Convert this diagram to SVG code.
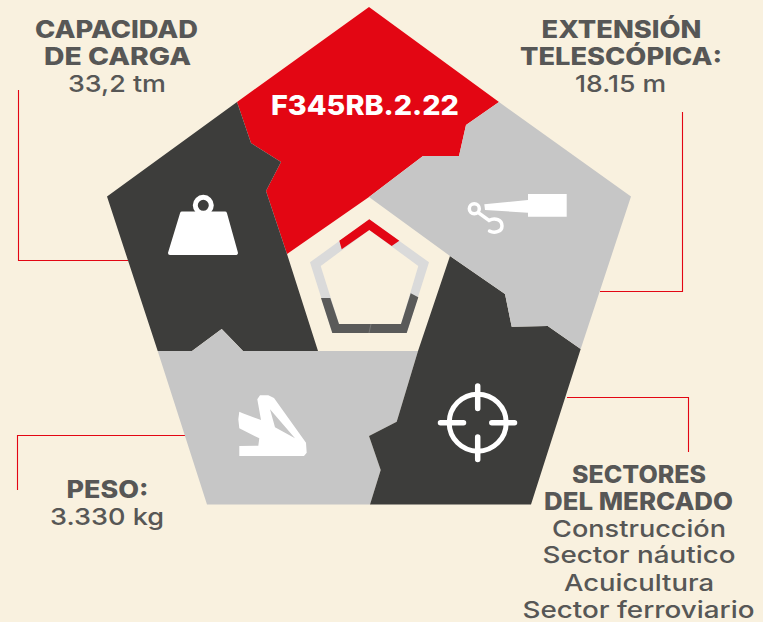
<svg xmlns="http://www.w3.org/2000/svg" width="763" height="622" viewBox="0 0 763 622">
<style>
text{font-family:"Inter","Liberation Sans",sans-serif}
.t{fill:#575756;font-size:23.5px;font-weight:550}
.b{font-weight:800;font-size:24px}
.ln{fill:none;stroke:#e30613;stroke-width:1.1}
.dk{fill:#3d3d3b}.gr{fill:#c6c6c6}.rd{fill:#e30613}
.ic{fill:#fff}
.st{fill:none;stroke:#fff;stroke-linecap:round}
</style>
<rect width="763" height="622" fill="#f9f1df"/>
<g id="connectors">
<path class="ln" d="M18.500 90V260.500H128"/>
<path class="ln" d="M682.500 112V291.500H600"/>
<path class="ln" d="M567 397.500H688.500V452"/>
<path class="ln" d="M186 435.500H17.500V490"/>
</g>
<g id="node-model">
<path class="rd" d="M369 7L499 102L466 125L459 156L423 156L369 197L287 254L266 191L281 162L251 143L237 102Z"/>
<text x="271" y="115" textLength="188" lengthAdjust="spacingAndGlyphs" style="font-weight:800;font-size:27.500px;fill:#fff">F345RB.2.22</text>
</g>
<g id="node-capacity">
<path class="dk" d="M237 102L107 196.500L157.700 351L192 351L221.700 329L243 351L318 351L287 254L266 191L281 162L251 143Z"/>
<circle cx="203.300" cy="205.300" r="8" fill="none" stroke="#fff" stroke-width="5"/>
<path class="ic" stroke="#fff" stroke-width="4" stroke-linejoin="round" d="M182 213.500H225L236 253H170Z"/>
</g>
<g id="node-weight">
<path class="gr" d="M157.700 351L192 351L221.700 329L243 351L418 351L396.700 421.700L369 436L380.700 470L370 504.500L207 504.500Z"/>
<path class="ic" fill-rule="evenodd" d="M239.300 411.700L238.300 419.300L239.300 428.300L259.300 438.300L258.300 445.700L239.300 446L239.300 456L304 456L306.700 452.700L306 442.700L274 398L268.300 395.300L260 395.300L257.300 399.300L261 420L242.700 413.300ZM270 409.300L275 427.300L295 438.300Z"/>
</g>
<g id="node-sectors">
<path class="dk" d="M450 256L505 294L511.700 326.700L547.700 326L580.700 349L531 504.500L370 504.500L380.700 470L369 436L396.700 421.700L418 351Z"/>
<circle cx="477.700" cy="422.700" r="28.500" fill="none" stroke="#fff" stroke-width="5"/>
<path class="st" stroke-width="5.500" d="M440.500 422.700H463.500M491.800 422.700H514.500M477.700 386V408.500M477.700 437V459.500"/>
</g>
<g id="node-extension">
<path class="gr" d="M499 102L631 196.500L580.700 349L547.700 326L511.700 326.700L505 294L450 256L369 197L423 156L459 156L466 125Z"/>
<path class="ic" d="M528 194H566.700V216.700H528V212.700L485 210L484.300 204.300L528 200Z"/>
<circle cx="474.300" cy="208.700" r="5" fill="none" stroke="#fff" stroke-width="3.500"/>
<path class="st" stroke-width="3.500" d="M478.300 212.700L489 220.500C495 217 502 220 502 226C502 232 494 233.500 489.500 231"/>
</g>
<g id="node-ring">
<path fill="#dadada" fill-rule="evenodd" d="M369.300 219.300L429 262.300L406.700 333H332.300L310 262.300ZM369.300 230L320.700 266L339 324H401L418.300 266Z"/>
<path class="rd" d="M369.300 219.300L399.300 240.700L391.700 246L369.300 230L341.700 249.300L339.300 240.700Z"/>
<path fill="#5a5a59" d="M321 298H330.300L339 324H401L410.700 293.300L418.300 297.300L406.700 333H332.300Z"/>
<path d="M371 324L369 333" stroke="#8a8a88" stroke-width="0.600" fill="none"/>
</g>
<g id="labels">
<text class="t b" x="35" y="37.500" textLength="163" lengthAdjust="spacingAndGlyphs">CAPACIDAD</text>
<text class="t b" x="44" y="65" textLength="147" lengthAdjust="spacingAndGlyphs">DE CARGA</text>
<text class="t" x="68" y="91.500" textLength="98" lengthAdjust="spacingAndGlyphs">33,2 tm</text>
<text class="t b" x="541.500" y="37.500" textLength="160" lengthAdjust="spacingAndGlyphs">EXTENSIÓN</text>
<text class="t b" x="520" y="64.500" textLength="202" lengthAdjust="spacingAndGlyphs">TELESCÓPICA:</text>
<text class="t" x="575" y="91.500" textLength="91" lengthAdjust="spacingAndGlyphs">18.15 m</text>
<text class="t b" x="66.500" y="498" textLength="82" lengthAdjust="spacingAndGlyphs">PESO:</text>
<text class="t" x="50" y="524.500" textLength="114" lengthAdjust="spacingAndGlyphs">3.330 kg</text>
<text class="t b" x="572" y="482.500" textLength="134" lengthAdjust="spacingAndGlyphs">SECTORES</text>
<text class="t b" x="544" y="510" textLength="189" lengthAdjust="spacingAndGlyphs">DEL MERCADO</text>
<text class="t" x="552" y="536.500" textLength="174" lengthAdjust="spacingAndGlyphs">Construcción</text>
<text class="t" x="542.500" y="563" textLength="193" lengthAdjust="spacingAndGlyphs">Sector náutico</text>
<text class="t" x="564" y="590.500" textLength="150" lengthAdjust="spacingAndGlyphs">Acuicultura</text>
<text class="t" x="522.500" y="617.500" textLength="232" lengthAdjust="spacingAndGlyphs">Sector ferroviario</text>
</g>
</svg>
